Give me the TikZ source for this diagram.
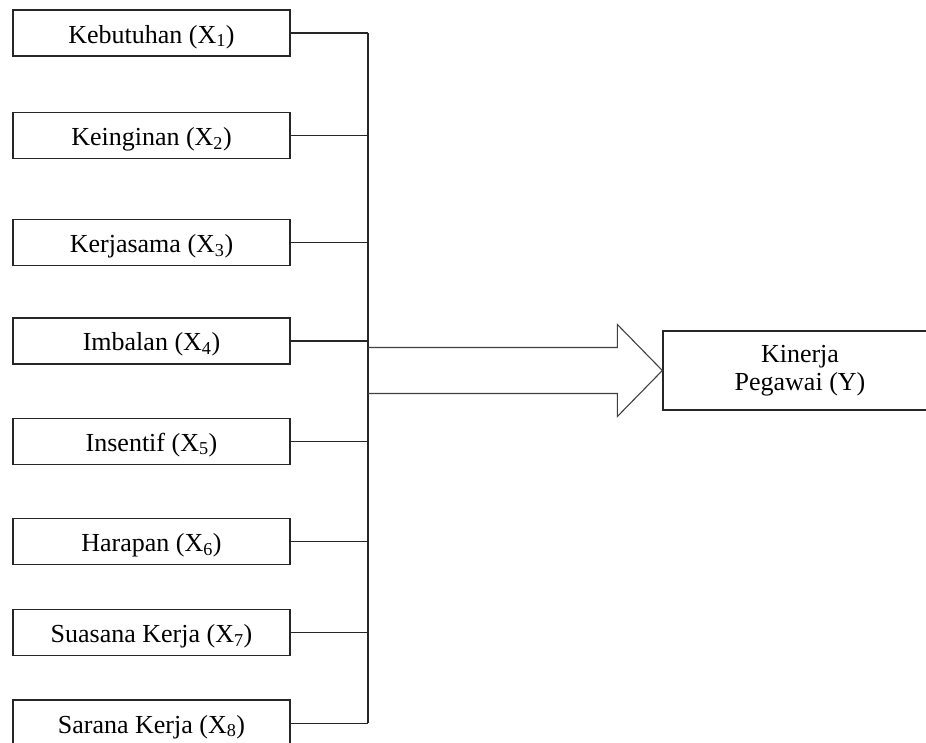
\documentclass[tikz,border=0pt]{standalone}
\usepackage{fontspec}
\setmainfont{Liberation Serif}
\usetikzlibrary{positioning, calc}

\begin{document}
\begin{tikzpicture}[
    x=1pt, y=-1pt,
    node distance = 54pt,
    var/.style  = {rectangle, draw=black!85, line width=1.3pt,
                   minimum width=277pt, minimum height=46pt,
                   inner sep=0pt, text height=24pt, text depth=4pt,
                   font=\fontsize{26}{28}\selectfont},
    dv/.style   = {rectangle, draw=black!85, line width=1.3pt,
                   minimum width=274pt, minimum height=79pt,
                   align=center, font=\fontsize{26}{28}\selectfont},
    link/.style = {black!85, line width=1.2pt},
    fat/.style  = {black!75, line width=1.1pt, line join=miter}
]
\useasboundingbox (0,0) rectangle (926,742);

% Independent variables
\node[var] (x1) at (151.5,33)  {Kebutuhan (X\textsubscript{1})};
\node[var, below=55pt of x1] (x2) {Keinginan (X\textsubscript{2})};
\node[var, below=60pt of x2] (x3) {Kerjasama (X\textsubscript{3})};
\node[var, below=51pt of x3] (x4) {Imbalan (X\textsubscript{4})};
\node[var, below=53pt of x4] (x5) {Insentif (X\textsubscript{5})};
\node[var, below=53pt of x5] (x6) {Harapan (X\textsubscript{6})};
\node[var, below=44pt of x6] (x7) {Suasana Kerja (X\textsubscript{7})};
\node[var, below=43pt of x7] (x8) {Sarana Kerja (X\textsubscript{8})};

% Dependent variable
\node[dv] (y) at (800,370.5) {Kinerja\\Pegawai (Y)};

% Collector line
\coordinate (bus) at (368,0);
\coordinate (tail) at (bus |- y.west);

\draw[link] (x1.east) -- (x1.east -| bus);
\draw[link] (x2.east) -- (x2.east -| bus);
\draw[link] (x3.east) -- (x3.east -| bus);
\draw[link] (x4.east) -- (x4.east -| bus);
\draw[link] (x5.east) -- (x5.east -| bus);
\draw[link] (x6.east) -- (x6.east -| bus);
\draw[link] (x7.east) -- (x7.east -| bus);
\draw[link] (x8.east) -- (x8.east -| bus);
\draw[link] (x1.east -| bus) -- (x8.east -| bus);

% Block arrow -> Y
\draw[fat] ([yshift=23pt]tail) -- ([xshift=-45pt, yshift=23pt]y.west)
    -- ([xshift=-45pt, yshift=46pt]y.west) -- (y.west)
    -- ([xshift=-45pt, yshift=-46pt]y.west)
    -- ([xshift=-45pt, yshift=-23pt]y.west) -- ([yshift=-23pt]tail);
\end{tikzpicture}
\end{document}
